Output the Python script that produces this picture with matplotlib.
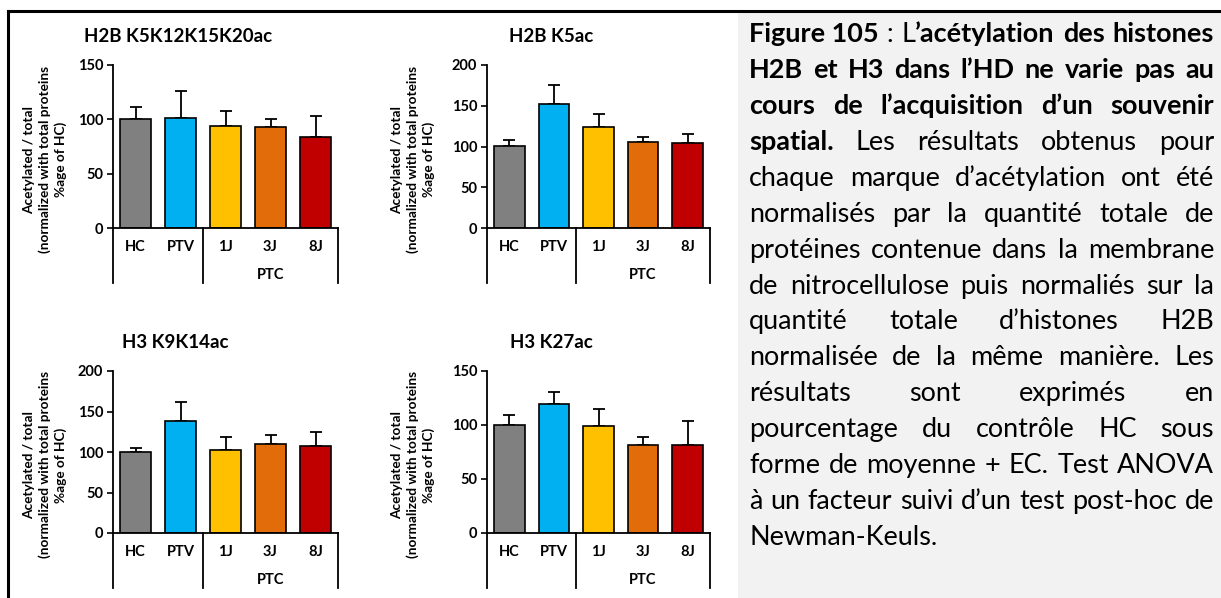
import matplotlib
matplotlib.use("Agg")
import matplotlib.pyplot as plt
from matplotlib.lines import Line2D
from matplotlib.patches import Rectangle
from matplotlib.transforms import blended_transform_factory

# ---------------- data ----------------
categories = ["HC", "PTV", "1J", "3J", "8J"]
group_label = "PTC"
bar_colors = ["#808080", "#00b0f0", "#ffc000", "#e36c0a", "#c00000"]
ylabel = "Acetylated / total\n(normalized with total proteins\n%age of HC)"

title_1 = "H2B K5K12K15K20ac"
means_1 = [100, 101, 94, 93, 84]
errs_1 = [11.5, 25, 14, 7.5, 19]
yticks_1 = [0, 50, 100, 150]

title_2 = "H2B K5ac"
means_2 = [100.5, 152, 123.5, 106, 104]
errs_2 = [8, 23, 16.5, 6, 11.5]
yticks_2 = [0, 50, 100, 150, 200]

title_3 = "H3 K9K14ac"
means_3 = [100, 138, 102, 110, 107.5]
errs_3 = [5, 23.5, 17, 11, 17]
yticks_3 = [0, 50, 100, 150, 200]

title_4 = "H3 K27ac"
means_4 = [100, 119, 99.5, 81.5, 81.5]
errs_4 = [9, 12, 15.5, 7.5, 22]
yticks_4 = [0, 50, 100, 150]

caption_lines = [
    [[("Figure 105", "bold")], [(":", "normal")], [("L", "normal"), ("\u2019acétylation", "bold")],
     [("des", "bold")], [("histones", "bold")]],
    [[(w, "bold")] for w in "H2B et H3 dans l\u2019HD ne varie pas au".split()],
    [[(w, "bold")] for w in "cours de l\u2019acquisition d\u2019un souvenir".split()],
    [[("spatial.", "bold")]] + [[(w, "normal")] for w in "Les résultats obtenus pour".split()],
    [[(w, "normal")] for w in "chaque marque d\u2019acétylation ont été".split()],
    [[(w, "normal")] for w in "normalisés par la quantité totale de".split()],
    [[(w, "normal")] for w in "protéines contenue dans la membrane".split()],
    [[(w, "normal")] for w in "de nitrocellulose puis normaliés sur la".split()],
    [[(w, "normal")] for w in "quantité totale d\u2019histones H2B".split()],
    [[(w, "normal")] for w in "normalisée de la même manière. Les".split()],
    [[(w, "normal")] for w in "résultats sont exprimés en".split()],
    [[(w, "normal")] for w in "pourcentage du contrôle HC sous".split()],
    [[(w, "normal")] for w in "forme de moyenne + EC. Test ANOVA".split()],
    [[(w, "normal")] for w in "à un facteur suivi d\u2019un test post-hoc de".split()],
    [[(w, "normal")] for w in "Newman-Keuls.".split()],
]

# ---------------- figure ----------------
W, H = 1221, 598
FONT = ["Lato", "DejaVu Sans"]
plt.rcParams["font.family"] = FONT
fig = plt.figure(figsize=(W / 100, H / 100), dpi=100)
fig.patch.set_facecolor("white")

# grey caption panel and frame
fig.add_artist(Rectangle((738 / W, 0), 1 - 738 / W, 1 - 13 / H, transform=fig.transFigure,
                         facecolor="#f2f2f2", edgecolor="none", zorder=0))
fig.add_artist(Line2D([8 / W, 1], [1 - 11 / H, 1 - 11 / H], transform=fig.transFigure,
                      color="black", lw=2.2, zorder=5))
fig.add_artist(Line2D([8 / W, 8 / W], [0, 1 - 11 / H], transform=fig.transFigure,
                      color="black", lw=2.2, zorder=5))

TICK_FS = 10.5
CAT_FS = 10.5
TITLE_FS = 13.5
YLAB_FS = 9.8


def px_axes(l, t, r, b):
    return fig.add_axes([l / W, 1 - b / H, (r - l) / W, (b - t) / H])


def draw_chart(ax, title, means, errs, yticks, ylab_x, title_x_px, title_y_px):
    x = list(range(len(categories)))
    ax.bar(x, means, width=0.69, color=bar_colors, edgecolor="black", linewidth=1.2, zorder=2)
    ax.errorbar(x, means, yerr=[[0] * len(errs), errs], fmt="none", ecolor="black",
                elinewidth=1.3, capsize=4.5, capthick=1.3, zorder=1)
    ax.set_xlim(-0.5, 4.5)
    ax.set_ylim(yticks[0], yticks[-1])
    ax.set_yticks(yticks)
    ax.set_yticklabels([str(v) for v in yticks], fontsize=TICK_FS, fontweight="bold")
    ax.set_xticks([])
    for s in ["top", "right"]:
        ax.spines[s].set_visible(False)
    for s in ["left", "bottom"]:
        ax.spines[s].set_linewidth(1.3)
    ax.tick_params(axis="y", direction="out", length=4, width=1.2, pad=3)
    ax.text(ylab_x, 0.42, ylabel, transform=ax.transAxes, rotation=90, ha="center",
            va="center", fontsize=YLAB_FS, fontweight="bold", linespacing=1.3,
            multialignment="center")
    ax.set_facecolor("none")
    hpx = ax.get_position().height * H
    trans = blended_transform_factory(ax.transData, ax.transAxes)
    for xs in [-0.5, 1.5, 4.5]:
        ax.add_line(Line2D([xs, xs], [0, -55 / hpx], transform=trans, color="black",
                           lw=1.3, clip_on=False))
    for xi, c in zip(x, categories):
        ax.text(xi, -19 / hpx, c, transform=trans, ha="center", va="center",
                fontsize=CAT_FS, fontweight="bold")
    ax.text(3, -47 / hpx, group_label, transform=trans, ha="center", va="center",
            fontsize=CAT_FS, fontweight="bold")
    fig.text(title_x_px / W, 1 - title_y_px / H, title, ha="center", va="center",
             fontsize=TITLE_FS, fontweight="bold")


ax1 = px_axes(113, 65, 338, 228)
draw_chart(ax1, title_1, means_1, errs_1, yticks_1, -68 / 225, 178, 37)
ax2 = px_axes(487, 65, 710, 228)
draw_chart(ax2, title_2, means_2, errs_2, yticks_2, -74 / 223, 551, 37)
ax3 = px_axes(113, 371, 338, 533)
draw_chart(ax3, title_3, means_3, errs_3, yticks_3, -68 / 225, 175, 343)
ax4 = px_axes(487, 371, 710, 533)
draw_chart(ax4, title_4, means_4, errs_4, yticks_4, -74 / 223, 551, 343)

# ---------------- justified caption ----------------
renderer = fig.canvas.get_renderer()


def seg_width(s, weight, fs):
    t = fig.text(0, 0, s, fontsize=fs, fontweight=weight)
    w = t.get_window_extent(renderer).width
    t.remove()
    return w


def word_width(word, fs):
    return sum(seg_width(s, wgt, fs) for s, wgt in word)


x_left, x_right = 749, 1214
avail = x_right - x_left
fs0 = 22.0
space0 = seg_width("a a", "normal", fs0) - seg_width("aa", "normal", fs0)
maxw = 0
for line in caption_lines:
    nat = sum(word_width(wd, fs0) for wd in line) + space0 * (len(line) - 1)
    maxw = max(maxw, nat)
fs = min(fs0, fs0 * avail / maxw * 0.99)
space = seg_width("a a", "normal", fs) - seg_width("aa", "normal", fs)

base0, step = 42, 35.93
for i, line in enumerate(caption_lines):
    yb = 1 - (base0 + step * i) / H
    widths = [word_width(wd, fs) for wd in line]
    last = i == len(caption_lines) - 1
    if last or len(line) == 1:
        gap = space
    else:
        gap = (avail - sum(widths)) / (len(line) - 1)
    xp = x_left
    for wd, ww in zip(line, widths):
        xs = xp
        for s, wgt in wd:
            fig.text(xs / W, yb, s, fontsize=fs, fontweight=wgt, ha="left", va="baseline",
                     color="black", zorder=3)
            xs += seg_width(s, wgt, fs)
        xp += ww + gap

fig.savefig("out.png", dpi=100, facecolor="white")
